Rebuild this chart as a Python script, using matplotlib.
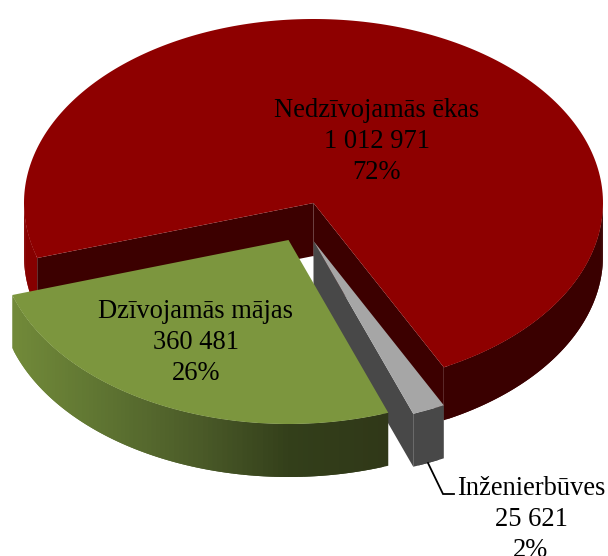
import numpy as np
import matplotlib
matplotlib.use("Agg")
import matplotlib.pyplot as plt
from matplotlib.colors import to_rgb

categories = ["Nedzīvojamās ēkas", "Inženierbūves", "Dzīvojamās mājas"]
values = [1012971, 25621, 360481]
value_labels = ["1 012 971", "25 621", "360 481"]
pct_labels = ["72%", "2%", "26%"]

START = 197.4          # ellipse angle where the first slice starts, going clockwise
CX, CY, A, B = 313.5, 203.0, 289.5, 184.0
DEPTH = 53.0
offsets = [(0, 0), (0, 38), (-25, 37)]
tops = ["#8E0000", "#A6A6A6", "#7C963E"]
cuts = ["#3C0000", "#484848", "#3A4718"]
# outer-wall colour stops, by horizontal pixel position
wall_x = [[0, 100, 101, 608], [0, 608], [12, 100, 200, 290, 386]]
wall_c = [["#860000", "#860000", "#3A0000", "#3A0000"],
          ["#484848", "#484848"],
          ["#728A39", "#5F7532", "#4A5A28", "#333F1A", "#303818"]]
label_xy = [(377, 117), (531, 495), (196, 318)]
LINE = 31

fig = plt.figure(figsize=(6.08, 5.56), dpi=100)
ax = fig.add_axes([0, 0, 1, 1])
ax.set_xlim(0, 608)
ax.set_ylim(556, 0)
ax.axis("off")


def rim(t, ox, oy, dz=0.0):
    r = np.radians(t)
    return CX + ox + A * np.cos(r), CY + oy - B * np.sin(r) + dz


fr = np.array(values, float) / sum(values)
ends = START - np.cumsum(fr) * 360
starts = np.r_[START, ends[:-1]]

for i in range(len(values)):
    t0, t1 = starts[i], ends[i]       # t0 > t1, clockwise
    ox, oy = offsets[i]
    apex_x, apex_y = CX + ox, CY + oy
    ts = np.linspace(t0, t1, 241)
    stops = np.array([to_rgb(c) for c in wall_c[i]])
    # outer wall: lower half of the ellipse, in overlapping strips so no seams show
    tw = np.linspace(t0, t1, max(4, int(abs(t1 - t0) / 1.0) + 1))
    for a, b, c in zip(tw[:-2], tw[1:-1], tw[2:]):
        if np.sin(np.radians((a + b) / 2)) >= 0:
            continue
        x1, y1 = rim(a, ox, oy)
        x2, y2 = rim(b, ox, oy)
        x3, y3 = rim(c, ox, oy)
        xm = (x1 + x2) / 2
        col = tuple(np.interp(xm, wall_x[i], stops[:, k]) for k in range(3))
        ax.fill([x1, x2, x3, x3, x2, x1], [y1, y2, y3, y3 + DEPTH, y2 + DEPTH, y1 + DEPTH],
                color=col, lw=0, zorder=i * 3 + 1)
    # cut faces that face the viewer
    faces = {0: [t0, t1], 1: [t1], 2: []}[i]
    for t in faces:
        x, y = rim(t, ox, oy)
        ax.fill([apex_x, x, x, apex_x], [apex_y, y, y + DEPTH, apex_y + DEPTH], color=cuts[i], lw=0, zorder=i * 3 + 2)
    # top surface
    xs, ys = rim(ts, ox, oy)
    ax.fill(np.r_[apex_x, xs], np.r_[apex_y, ys], color=tops[i], lw=0, zorder=i * 3 + 3)

ax.plot([428, 443, 454], [463, 494, 494], color="black", lw=1.3, zorder=20, solid_joinstyle="miter")

for (x, y), c, v, p in zip(label_xy, categories, value_labels, pct_labels):
    for k, s in enumerate([c, v, p]):
        ax.text(x, y + k * LINE, s, family="Liberation Serif", fontsize=19.1, color="black",
                ha="center", va="baseline", zorder=21)

fig.savefig("out.png", dpi=100)
